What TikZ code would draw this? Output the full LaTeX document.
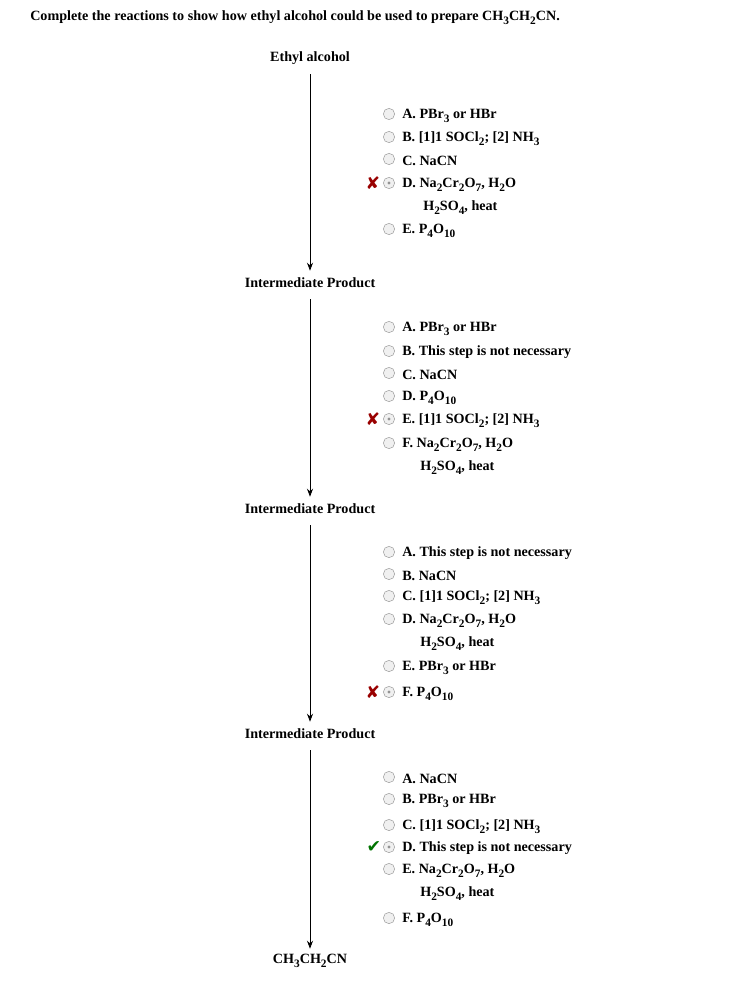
\documentclass[tikz,border=0pt]{standalone}
\usepackage{fontspec}
\usetikzlibrary{arrows.meta}
\setmainfont{Liberation Serif}
\newfontfamily\symf{DejaVu Sans}
\newcommand{\sbs}[1]{\raisebox{-0.6ex}{\fontsize{8.5}{9}\selectfont #1}}
\tikzset{
 lab/.style={font=\fontsize{10.6}{12}\bfseries\selectfont, anchor=west, inner sep=0, yshift=-1.2pt},
 hd/.style={font=\fontsize{10.6}{12}\bfseries\selectfont, inner sep=0, minimum height=14pt},
 rad/.style={circle, draw=gray!75, fill=gray!12, minimum size=8.5pt, inner sep=0},
 arr/.style={-{Stealth[length=6pt,width=4.5pt]}, line width=0.6pt, shorten <=5pt, shorten >=2pt},
}
\begin{document}
\begin{tikzpicture}[x=0.75pt,y=-0.75pt]
\useasboundingbox (0,0) rectangle (730,988);
\node[hd, anchor=west] (title) at (30,18) {Complete the reactions to show how ethyl alcohol could be used to prepare CH\sbs{3}CH\sbs{2}CN.};
\node[hd] (s0) at (310,58) {Ethyl alcohol};
\node[hd] (s1) at (310,283) {Intermediate Product};
\node[hd] (s2) at (310,509) {Intermediate Product};
\node[hd] (s3) at (310,734) {Intermediate Product};
\node[hd] (s4) at (310,961) {CH\sbs{3}CH\sbs{2}CN};
\draw[arr] (s0) -- (s1);
\draw[arr] (s1) -- (s2);
\draw[arr] (s2) -- (s3);
\draw[arr] (s3) -- (s4);
\newcommand{\opt}[3]{\node[rad] at (389,#1) {}; \node[lab] at (402,#1) {#2 #3};}
\newcommand{\sel}[1]{\node[rad] at (389,#1) {}; \fill[gray!85] (389,#1) circle (1.6);}
\newcommand{\xm}[1]{\node[text=red!60!black, font=\symf\bfseries\fontsize{13}{13}\selectfont] at (373,#1) {✘};}
% block 1
\opt{114}{A.}{PBr\sbs{3} or HBr}
\opt{137}{B.}{[1]1 SOCl\sbs{2}; [2] NH\sbs{3}}
\opt{159}{C.}{NaCN}
\sel{183}\node[lab] at (402,183) {D. Na\sbs{2}Cr\sbs{2}O\sbs{7}, H\sbs{2}O};
\node[lab] at (423,206) {H\sbs{2}SO\sbs{4}, heat};
\xm{183}
\opt{229}{E.}{P\sbs{4}O\sbs{10}}
% block 2
\opt{327}{A.}{PBr\sbs{3} or HBr}
\opt{351}{B.}{This step is not necessary}
\opt{373}{C.}{NaCN}
\opt{396}{D.}{P\sbs{4}O\sbs{10}}
\sel{419}\node[lab] at (402,419) {E. [1]1 SOCl\sbs{2}; [2] NH\sbs{3}};
\xm{419}
\opt{443}{F.}{Na\sbs{2}Cr\sbs{2}O\sbs{7}, H\sbs{2}O}
\node[lab] at (420,466) {H\sbs{2}SO\sbs{4}, heat};
% block 3
\opt{552}{A.}{This step is not necessary}
\opt{574}{B.}{NaCN}
\opt{596}{C.}{[1]1 SOCl\sbs{2}; [2] NH\sbs{3}}
\opt{619}{D.}{Na\sbs{2}Cr\sbs{2}O\sbs{7}, H\sbs{2}O}
\node[lab] at (420,642) {H\sbs{2}SO\sbs{4}, heat};
\opt{666}{E.}{PBr\sbs{3} or HBr}
\sel{692}\node[lab] at (402,692) {F. P\sbs{4}O\sbs{10}};
\xm{692}
% block 4
\opt{777}{A.}{NaCN}
\opt{799}{B.}{PBr\sbs{3} or HBr}
\opt{825}{C.}{[1]1 SOCl\sbs{2}; [2] NH\sbs{3}}
\sel{847}\node[lab] at (402,847) {D. This step is not necessary};
\node[text=green!45!black, font=\symf\bfseries\fontsize{13}{13}\selectfont] at (374,847) {✔};
\opt{869}{E.}{Na\sbs{2}Cr\sbs{2}O\sbs{7}, H\sbs{2}O}
\node[lab] at (420,892) {H\sbs{2}SO\sbs{4}, heat};
\opt{918}{F.}{P\sbs{4}O\sbs{10}}
\end{tikzpicture}
\end{document}
